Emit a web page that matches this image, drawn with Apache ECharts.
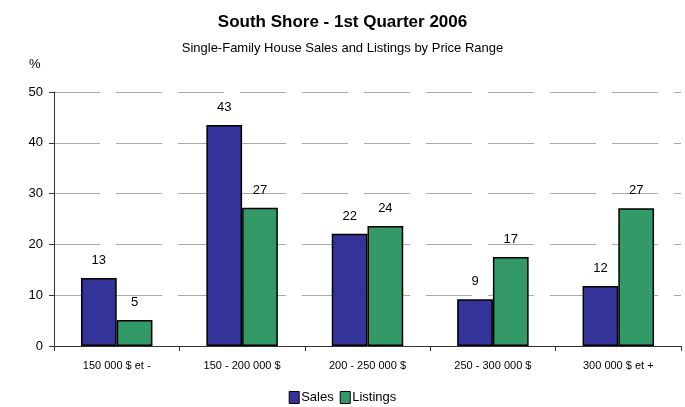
<!DOCTYPE html>
<html><head><meta charset="utf-8">
<script src="https://cdn.jsdelivr.net/npm/echarts@6/dist/echarts.min.js"></script>
<style>html,body{margin:0;padding:0;background:#fff}#c{width:685px;height:407px}</style>
</head><body><div id="c"></div>
<script>
const categories = ['150 000 $ et -', '150 - 200 000 $', '200 - 250 000 $', '250 - 300 000 $', '300 000 $ et +'];
const sales = [13.4, 43.5, 22.1, 9.2, 11.8];
const listings = [5.1, 27.2, 23.6, 17.5, 27.1];
const salesLabels = ['13', '43', '22', '9', '12'];
const listingsLabels = ['5', '27', '24', '17', '27'];
const yTicks = [0, 10, 20, 30, 40, 50];

const chart = echarts.init(document.getElementById('c'));
const font = 'Liberation Sans, Arial, sans-serif';
chart.setOption({
  animation: false,
  textStyle: { fontFamily: font },
  title: [
    { text: 'South Shore - 1st Quarter 2006', left: 'center', top: 9,
      textStyle: { fontSize: 17, fontWeight: 'bold', color: '#000', fontFamily: font } },
    { text: 'Single-Family House Sales and Listings by Price Range', left: 'center', top: 37,
      textStyle: { fontSize: 13, fontWeight: 'normal', color: '#000', fontFamily: font } },
    { text: '%', left: 24, top: 53,
      textStyle: { fontSize: 13, fontWeight: 'normal', color: '#000', fontFamily: font } }
  ],
  legend: {
    bottom: -2, left: 'center', itemWidth: 10, itemHeight: 12, itemGap: 6, icon: 'rect',
    itemStyle: { borderColor: '#000', borderWidth: 1 },
    textStyle: { fontSize: 13, color: '#000', fontFamily: font, padding: [0, 0, 0, -3] },
    data: ['Sales', 'Listings']
  },
  grid: { left: 54, right: 4, top: 92, bottom: 61 },
  xAxis: {
    type: 'category', data: categories,
    axisLine: { lineStyle: { color: '#333', width: 1 } },
    axisTick: { show: true, length: 5, lineStyle: { color: '#333' } },
    axisLabel: { color: '#000', fontSize: 11, margin: 14, fontFamily: font }
  },
  yAxis: {
    type: 'value', min: 0, max: 50, interval: 10,
    axisLine: { show: true, lineStyle: { color: '#333', width: 1 } },
    axisTick: { show: true, length: 5, lineStyle: { color: '#333' } },
    axisLabel: { color: '#000', fontSize: 13, margin: 11, fontFamily: font,
      formatter: v => yTicks.includes(v) ? String(v) : '' },
    splitLine: { show: true, lineStyle: { color: '#aaa', type: [46, 16], width: 1 } }
  },
  series: [
    { name: 'Sales', type: 'bar', data: sales, barGap: '0%', barCategoryGap: '43%',
      itemStyle: { color: '#333399', borderColor: '#000', borderWidth: 1.5 },
      label: { show: true, position: 'top', distance: 11, color: '#000', fontSize: 13,
        formatter: p => salesLabels[p.dataIndex] } },
    { name: 'Listings', type: 'bar', data: listings,
      itemStyle: { color: '#339966', borderColor: '#000', borderWidth: 1.5 },
      label: { show: true, position: 'top', distance: 11, color: '#000', fontSize: 13,
        formatter: p => listingsLabels[p.dataIndex] } }
  ]
});
</script></body></html>
